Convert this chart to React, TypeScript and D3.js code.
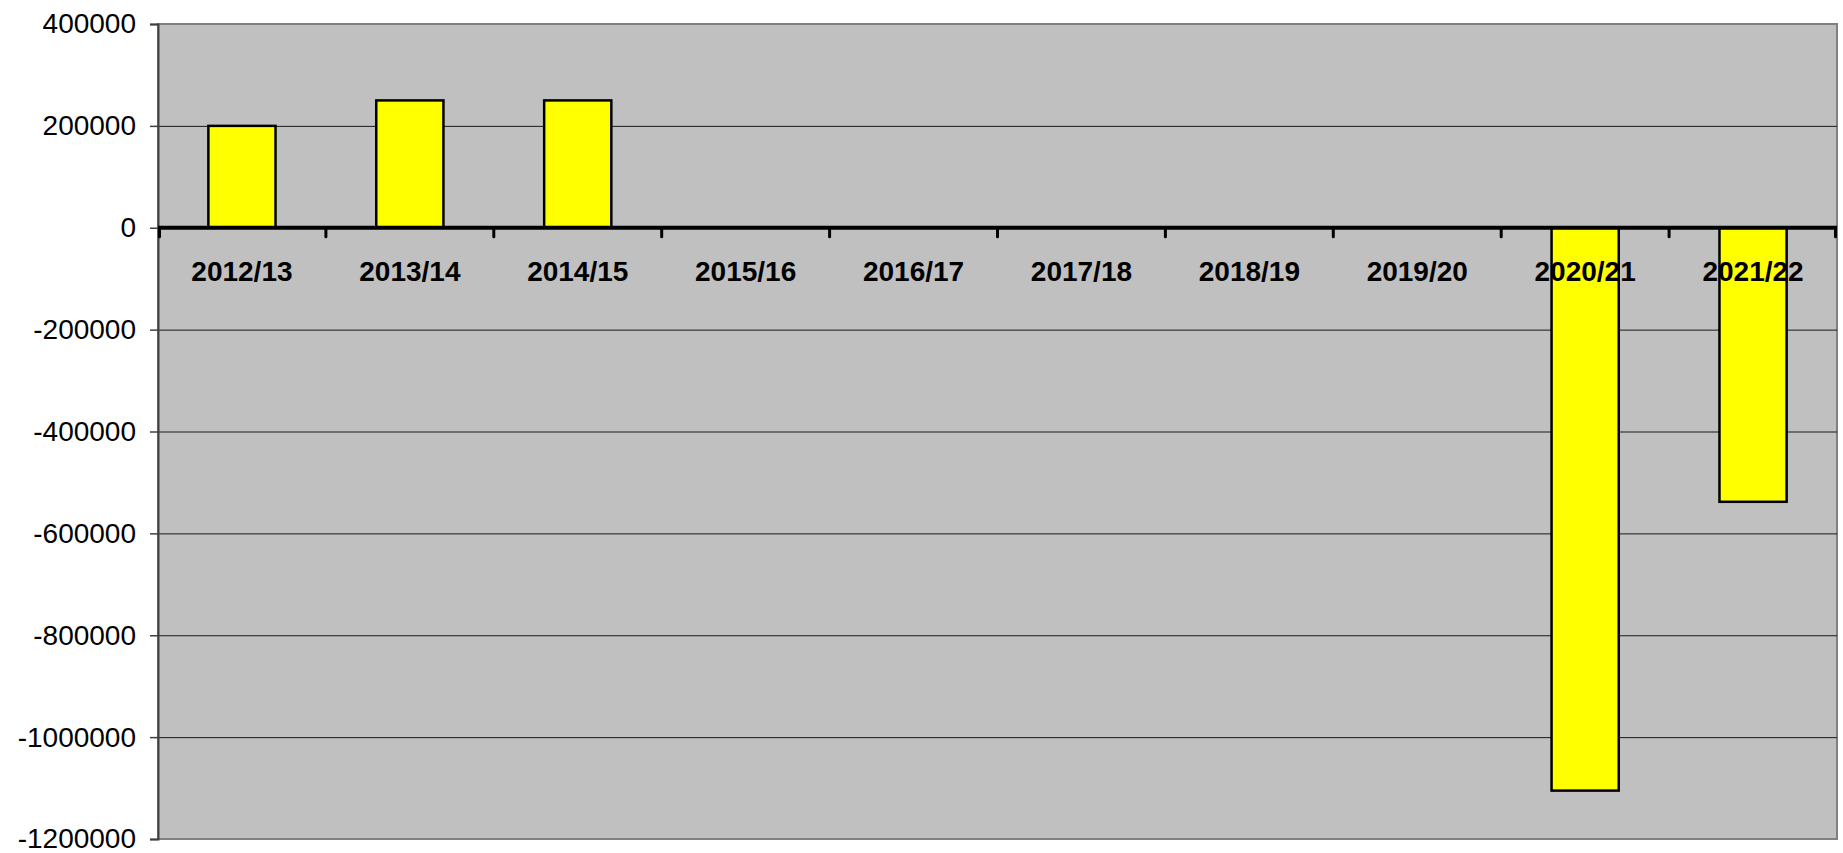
import React, { useEffect, useRef } from 'react';
import * as d3 from 'd3';

const seasons = ['2012/13', '2013/14', '2014/15', '2015/16', '2016/17', '2017/18', '2018/19', '2019/20', '2020/21', '2021/22'];
const values = [200000, 250000, 250000, 0, 0, 0, 0, 0, -1105000, -538000];
const yTicks = [400000, 200000, 0, -200000, -400000, -600000, -800000, -1000000, -1200000];

const W = 1843;
const H = 853;
const margin = { top: 24, right: 6, bottom: 14, left: 158 };

const App = () => {
  const ref = useRef<SVGSVGElement>(null);

  useEffect(() => {
    draw();
  });

  const draw = () => {
    const svg = d3.select(ref.current);
    svg.selectAll('*').remove();

    const width = W - margin.left - margin.right;
    const height = H - margin.top - margin.bottom;

    const x = d3.scaleBand().domain(seasons).range([0, width]).paddingInner(0.6).paddingOuter(0.3);
    const xStep = d3.scaleBand().domain(seasons).range([0, width]);
    const y = d3.scaleLinear().domain([-1200000, 400000]).range([height, 0]);

    const g = svg.append('g').attr('transform', `translate(${margin.left},${margin.top})`);

    // plot area
    g.append('rect')
      .attr('width', width)
      .attr('height', height)
      .attr('fill', '#c0c0c0')
      .attr('stroke', '#808080')
      .attr('stroke-width', 2);

    // gridlines
    g.selectAll('.grid')
      .data(yTicks.filter((t) => t !== 0 && t !== 400000 && t !== -1200000))
      .enter()
      .append('line')
      .attr('x1', 0)
      .attr('x2', width)
      .attr('y1', (d) => y(d) + 0.5)
      .attr('y2', (d) => y(d) + 0.5)
      .attr('stroke', '#1a1a1a')
      .attr('stroke-width', 1);

    // y axis
    const yAxis = g.append('g')
      .call(d3.axisLeft(y).tickValues(yTicks).tickSize(8).tickPadding(14).tickFormat((d) => String(d)));
    yAxis.select('.domain').attr('stroke', '#404040').attr('stroke-width', 2);
    yAxis.selectAll('.tick line').attr('stroke', '#404040').attr('stroke-width', 1.5);
    yAxis.selectAll('.tick text')
      .attr('font-family', 'Liberation Sans, Arial, sans-serif')
      .attr('font-size', '28px')
      .attr('fill', '#000');

    // bars
    g.selectAll('.bar')
      .data(values.map((v, i) => ({ s: seasons[i], v })).filter((d) => d.v !== 0))
      .enter()
      .append('rect')
      .attr('class', 'bar')
      .attr('x', (d) => x(d.s) || 0)
      .attr('width', x.bandwidth())
      .attr('y', (d) => y(Math.max(0, d.v)))
      .attr('height', (d) => Math.abs(y(d.v) - y(0)))
      .attr('fill', '#ffff00')
      .attr('stroke', '#000')
      .attr('stroke-width', 2.5);

    // zero axis with category ticks
    g.append('line')
      .attr('x1', 0)
      .attr('x2', width)
      .attr('y1', y(0))
      .attr('y2', y(0))
      .attr('stroke', '#000')
      .attr('stroke-width', 4);

    const boundaries = seasons.map((s) => xStep(s) || 0).concat([width]);
    g.selectAll('.ctick')
      .data(boundaries)
      .enter()
      .append('line')
      .attr('x1', (d) => Math.min(Math.max(d, 1.5), width - 1.5))
      .attr('x2', (d) => Math.min(Math.max(d, 1.5), width - 1.5))
      .attr('y1', y(0))
      .attr('y2', y(0) + 9)
      .attr('stroke', '#000')
      .attr('stroke-width', 3)
      .attr('stroke-linecap', 'round');

    // category labels
    g.selectAll('.clabel')
      .data(seasons)
      .enter()
      .append('text')
      .attr('x', (d) => (xStep(d) || 0) + xStep.bandwidth() / 2)
      .attr('y', y(0) + 53)
      .attr('text-anchor', 'middle')
      .attr('font-family', 'Liberation Sans, Arial, sans-serif')
      .attr('font-weight', 'bold')
      .attr('font-size', '28px')
      .attr('fill', '#000')
      .text((d) => d);
  };

  return (
    <svg
      ref={ref}
      width={W}
      height={H}
      style={{ position: 'absolute', left: 0, top: 0, background: '#fff' }}
    />
  );
};

export default App;
